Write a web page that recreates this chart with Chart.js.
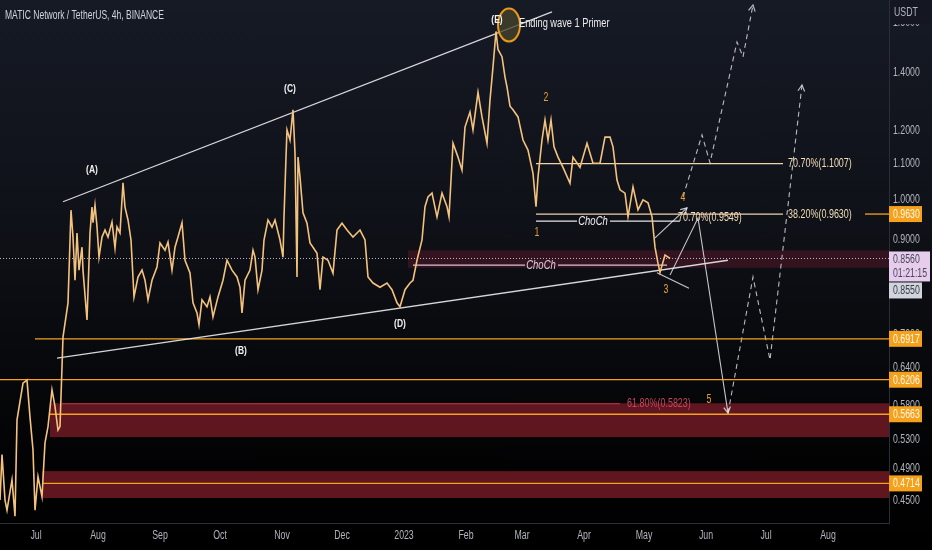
<!DOCTYPE html>
<html>
<head>
<meta charset="utf-8">
<script src="https://cdn.jsdelivr.net/npm/chart.js@4.4.0/dist/chart.umd.min.js"></script>
<style>
  html, body { margin: 0; padding: 0; }
  body {
    width: 932px; height: 550px; overflow: hidden;
    background: linear-gradient(to bottom, #161a25 0%, #0e1016 45%, #020203 85%, #000 100%);
  }
  #wrap { position: relative; width: 932px; height: 550px; }
</style>
</head>
<body>
<div id="wrap"><canvas id="chart"></canvas></div>
<script>
const FONT = "'Liberation Sans', Arial, sans-serif";
const SQUEEZE = 0.73;   // tradingview's font is narrower than anything installed

// MATIC/USDT price, [days since 1 Jul 2022, price]
const priceSeries = [
  [-18, 0.451], [-17, 0.509], [-15.5, 0.451], [-14.5, 0.439], [-12, 0.476], [-10.5, 0.432],
  [-9.5, 0.558], [-6.5, 0.615], [-4.5, 0.620], [-3, 0.562], [-1.5, 0.515], [-0.5, 0.439],
  [1, 0.480], [3, 0.455], [4.5, 0.525], [6, 0.548], [8, 0.604], [9.5, 0.578], [11, 0.543],
  [12, 0.548], [13, 0.642], [13.5, 0.695], [16, 0.761], [17.5, 0.973], [18.5, 0.906],
  [19.5, 0.808], [20.5, 0.916], [21.5, 0.830], [23, 0.882], [23.5, 0.830], [25.5, 0.727],
  [27, 0.916], [28, 0.981], [28.5, 0.941], [29.5, 0.986], [30.5, 0.931], [31.5, 0.859],
  [33, 0.906], [34.5, 0.923], [36, 0.906], [38, 0.943], [39.5, 0.880], [40.5, 0.931],
  [42, 0.916], [43.5, 1.046], [44.5, 0.981], [46, 0.948], [47.5, 0.899], [49, 0.773],
  [51, 0.815], [53, 0.830], [54.5, 0.808], [56, 0.767], [58, 0.808], [60.5, 0.837],
  [62, 0.892], [64.5, 0.875], [66, 0.894], [68, 0.830], [69.5, 0.882], [71, 0.906],
  [73, 0.941], [74.5, 0.852], [77, 0.824], [78.5, 0.761], [80.5, 0.741], [81.5, 0.718],
  [83, 0.767], [85.5, 0.753], [87, 0.773], [88.5, 0.733], [91, 0.773], [93.5, 0.808],
  [95.5, 0.852], [98, 0.830], [100.5, 0.815],
  [102, 0.793], [103, 0.741], [104.5, 0.808], [107, 0.830], [108.5, 0.875], [109.5, 0.859],
  [111, 0.788], [113, 0.830], [114, 0.899], [116, 0.948], [118, 0.930], [119.5, 0.948],
  [122, 0.899], [123.5, 0.859], [124, 0.956], [125, 1.120], [125.5, 1.204], [127, 1.172],
  [128.5, 1.270], [129.5, 1.132], [130.5, 0.815], [131, 1.120], [132, 1.062], [133.5, 0.966],
  [135.5, 0.940], [137, 0.892], [138.5, 0.882], [140.5, 0.868], [142, 0.788], [143.5, 0.859],
  [146, 0.852], [148.5, 0.823], [150.5, 0.923], [153, 0.940], [155.5, 0.923], [158.5, 0.906],
  [162, 0.923], [164.5, 0.899], [166, 0.815], [168.5, 0.802], [172, 0.793], [175.5, 0.802],
  [178, 0.788], [180.5, 0.761], [182, 0.753], [184.5, 0.788], [187, 0.802], [188.5, 0.808],
  [190.5, 0.852], [193, 0.899], [194.5, 0.982], [196, 1.008], [198, 1.018], [200.5, 0.956],
  [203, 1.018], [205.5, 0.982], [206.5, 0.956], [208.5, 1.162], [211, 1.120], [213, 1.082],
  [214.5, 1.213], [217, 1.262], [218.5, 1.204], [221, 1.330], [223, 1.246], [225.5, 1.162],
  [227, 1.303], [228.5, 1.423], [230, 1.563], [231, 1.490], [233, 1.462], [234.5, 1.385],
  [235.5, 1.349], [237, 1.282], [238.5, 1.270], [241, 1.246], [243.5, 1.172], [246, 1.141],
  [248.5, 1.073], [250, 0.982], [251, 1.062], [253, 1.172], [254.5, 1.236], [256, 1.172],
  [257.5, 1.236], [259, 1.151], [261, 1.120], [263.5, 1.090], [267, 1.045], [268.5, 1.120],
  [272, 1.090], [275.5, 1.162], [278.5, 1.102], [282, 1.102], [284.5, 1.181], [287, 1.181],
  [288.5, 1.151], [290.5, 1.054], [292, 1.027], [294.5, 1.018], [296, 0.956], [298.5, 1.035],
  [301, 0.974], [303.5, 1.000], [306, 0.992], [308, 0.956], [309.5, 0.882], [311, 0.845],
  [312, 0.825], [314.5, 0.864], [317, 0.856]
];

const monthDays = [0, 31, 62, 92, 123, 153, 184, 215, 243, 274, 304, 335, 365, 396];
const monthLabels = ['Jul', 'Aug', 'Sep', 'Oct', 'Nov', 'Dec', '2023', 'Feb', 'Mar', 'Apr', 'May', 'Jun', 'Jul', 'Aug'];
const priceTicks = [1.6, 1.4, 1.2, 1.1, 1.0, 0.9, 0.7, 0.64, 0.58, 0.53, 0.49, 0.45];

const lastPrice = 0.856;
const bidPrice = 0.855;
const countdown = '01:21:15';
const levelTags = [0.9630, 0.6917, 0.6206, 0.5663, 0.4714];

// drawings, all in [day, price]
const upperTrend = [[13.5, 0.995], [258, 1.646]];
const lowerTrend = [[10.5, 0.657], [346, 0.852]];
const orangeLevels = [[0.6917, -0.5], [0.6206, -18], [0.5663, 7], [0.4714, 3]];   // [price, from day]
const redZones = [[0.583, 0.533, 7], [0.487, 0.4535, 3]];                          // [top, bottom, from day]
const liveZone = [0.875, 0.835, 186];
const fibLevels = [[1.1007, 250, 373.5], [0.9630, 250, 373.5]];                     // [price, from, to]
const fibTail = [0.9630, 414.5];
const fibRed = [0.5823, 13, 292];
const chochLow = { price: 0.841, segs: [[188.5, 244.5], [261, 315.5]], textDay: 252.5 };
const chochHigh = { price: 0.945, segs: [[250, 270.5], [287, 322]], textDay: 278.5 };
const arrowUp = [[309.5, 0.904], [325.5, 0.979]];
const arrowDown = [[317, 0.819], [331, 0.953], [346, 0.568]];
const tickLine = [[310.5, 0.824], [326.5, 0.791]];
const dashedA = [[346, 0.568], [358.5, 0.815], [367, 0.654], [383, 1.356]];
const dashedB = [[323.5, 1.008], [333, 1.188], [337, 1.103], [350.5, 1.520], [353.5, 1.461], [358.5, 1.677]];
const circleAt = [236.5, 1.590];

const waveLabels = [['(A)', 28, 1.082], ['(B)', 102.5, 0.670], ['(C)', 127, 1.342], ['(D)', 182, 0.719], ['(E)', 230.5, 1.611]];
const countLabels = [['1', 250.5, 0.916], ['2', 255, 1.310], ['3', 315, 0.787], ['4', 323.5, 1.005], ['5', 336.5, 0.588]];
const fibTexts = [['70.70%(1.1007)', 376, 1.1007], ['38.20%(0.9630)', 376, 0.9630], ['70.70%(0.9549)', 321, 0.9549]];
const fibRedText = ['61.80%(0.5823)', 295.5, 0.5823];
const primerText = ['Ending wave 1 Primer', 241.5, 1.598];

const X_MIN = -18, X_MAX = 426.5;
const ORANGE = '#f5a11c';
const AXIS_TEXT = '#b2b5be';

const toXY = pts => pts.map(([x, y]) => ({ x, y }));
function lineSet(points, color, width, extra) {
  return Object.assign({
    data: toXY(points), borderColor: color, borderWidth: width,
    pointRadius: 0, fill: false, tension: 0
  }, extra || {});
}

const datasets = [
  lineSet(priceSeries, '#f4c27f', 1.6),
  lineSet(upperTrend, 'rgba(235,235,240,0.9)', 1.3),
  lineSet(lowerTrend, 'rgba(235,235,240,0.9)', 1.3),
  lineSet([[X_MIN, lastPrice], [X_MAX, lastPrice]], 'rgba(225,210,235,0.85)', 1, { borderDash: [1, 2] }),
  ...orangeLevels.map(([p, d]) => lineSet([[d, p], [X_MAX, p]], ORANGE, 1.3)),
  ...fibLevels.map(([p, a, b]) => lineSet([[a, p], [b, p]], '#f0d2a8', 1.2)),
  lineSet([[fibTail[1], fibTail[0]], [X_MAX, fibTail[0]]], ORANGE, 1.3),
  lineSet([[fibRed[1], fibRed[0]], [fibRed[2], fibRed[0]]], '#c23a4a', 1.2),
  ...chochLow.segs.map(([a, b]) => lineSet([[a, chochLow.price], [b, chochLow.price]], 'rgba(235,215,235,0.9)', 1.3)),
  ...chochHigh.segs.map(([a, b]) => lineSet([[a, chochHigh.price], [b, chochHigh.price]], 'rgba(240,240,245,0.95)', 1.3)),
  lineSet(arrowUp, 'rgba(230,230,235,0.85)', 1.1, { arrow: true }),
  lineSet(arrowDown, 'rgba(230,230,235,0.85)', 1.1, { arrow: true }),
  lineSet(tickLine, 'rgba(230,230,235,0.85)', 1.1),
  lineSet(dashedA, 'rgba(215,215,225,0.85)', 1.1, { borderDash: [5, 4], arrow: true }),
  lineSet(dashedB, 'rgba(215,215,225,0.85)', 1.1, { borderDash: [5, 4], arrow: true })
];

// fillText squeezed horizontally
function squeeze(ctx, str, x, y, k) {
  ctx.fillText(str, x, y, ctx.measureText(str).width * (k || SQUEEZE));
}

function arrowHead(ctx, from, to, size, color) {
  const a = Math.atan2(to.y - from.y, to.x - from.x);
  ctx.save();
  ctx.strokeStyle = color;
  ctx.lineWidth = 1.2;
  ctx.setLineDash([]);
  ctx.beginPath();
  ctx.moveTo(to.x - size * Math.cos(a - 0.5), to.y - size * Math.sin(a - 0.5));
  ctx.lineTo(to.x, to.y);
  ctx.lineTo(to.x - size * Math.cos(a + 0.5), to.y - size * Math.sin(a + 0.5));
  ctx.stroke();
  ctx.restore();
}

const overlay = {
  id: 'tvOverlay',
  beforeDatasetsDraw(chart) {
    const { ctx, chartArea: ca, scales: { x, y } } = chart;
    ctx.save();
    ctx.beginPath();
    ctx.rect(ca.left, ca.top, ca.right - ca.left, ca.bottom - ca.top);
    ctx.clip();
    const box = (top, bottom, from, color) => {
      const x0 = x.getPixelForValue(from), y0 = y.getPixelForValue(top), y1 = y.getPixelForValue(bottom);
      ctx.fillStyle = color;
      ctx.fillRect(x0, y0, ca.right - x0, y1 - y0);
    };
    redZones.forEach(([t, b, d]) => box(t, b, d, 'rgba(112,26,36,0.85)'));
    box(liveZone[0], liveZone[1], liveZone[2], 'rgba(95,25,42,0.45)');
    ctx.restore();
  },
  afterDatasetsDraw(chart) {
    const { ctx, scales: { x, y } } = chart;
    chart.data.datasets.forEach((ds, i) => {
      if (!ds.arrow) return;
      const pts = chart.getDatasetMeta(i).data;
      const n = pts.length;
      arrowHead(ctx, pts[n - 2], pts[n - 1], 7, ds.borderColor);
    });

    // orange circle round the top
    const cx = x.getPixelForValue(circleAt[0]), cy = y.getPixelForValue(circleAt[1]);
    ctx.save();
    ctx.beginPath();
    ctx.ellipse(cx, cy, 11, 16.5, 0, 0, Math.PI * 2);
    ctx.fillStyle = 'rgba(70,66,44,0.78)';
    ctx.fill();
    ctx.lineWidth = 2;
    ctx.strokeStyle = '#e89b1a';
    ctx.stroke();
    ctx.restore();

    const text = (t, d, p, font, color, align, k) => {
      ctx.font = font;
      ctx.fillStyle = color;
      ctx.textAlign = align || 'center';
      ctx.textBaseline = 'middle';
      squeeze(ctx, t, x.getPixelForValue(d), y.getPixelForValue(p), k);
    };
    ctx.save();
    waveLabels.forEach(([t, d, p]) => text(t, d, p, `bold 10px ${FONT}`, '#f0f0f0', 'center', 0.85));
    countLabels.forEach(([t, d, p]) => text(t, d, p, `12px ${FONT}`, '#e8a035'));
    fibTexts.forEach(([t, d, p]) => text(t, d, p, `13px ${FONT}`, '#f2dcb8', 'left', 0.69));
    text(fibRedText[0], fibRedText[1], fibRedText[2], `13px ${FONT}`, '#c8485a', 'left', 0.69);
    text(primerText[0], primerText[1], primerText[2], `12.5px ${FONT}`, '#ececec', 'left', 0.74);
    text('ChoCh', chochLow.textDay, chochLow.price, `italic 13px ${FONT}`, 'rgba(235,215,235,0.95)');
    text('ChoCh', chochHigh.textDay, chochHigh.price, `italic 13px ${FONT}`, '#f2f2f5');
    ctx.restore();
  },
  afterDraw(chart) {
    const { ctx, chartArea: ca, scales: { x, y } } = chart;
    const left = ca.right;
    ctx.save();
    ctx.textBaseline = 'middle';
    ctx.font = `12px ${FONT}`;

    // axis tick labels, squeezed
    ctx.fillStyle = AXIS_TEXT;
    ctx.textAlign = 'center';
    x.ticks.forEach((t, i) => squeeze(ctx, monthLabels[i], x.getPixelForValue(t.value), ca.bottom + 13));
    ctx.textAlign = 'left';
    y.ticks.forEach(t => squeeze(ctx, t.value.toFixed(4), left + 4, y.getPixelForValue(t.value)));

    // title and currency
    ctx.fillStyle = '#d1d4dc';
    squeeze(ctx, 'MATIC Network / TetherUS, 4h, BINANCE', 5, 16, 0.71);
    ctx.fillStyle = '#141722';
    ctx.fillRect(left + 1, 0, chart.width - left - 1, 24);
    ctx.fillStyle = AXIS_TEXT;
    squeeze(ctx, 'USDT', left + 5, 13);

    const tag = (p, label, bg, fg, top, h, w) => {
      const y0 = top !== undefined ? top : y.getPixelForValue(p) - 8;
      ctx.fillStyle = bg;
      ctx.fillRect(left, y0, w || 33, h || 16);
      ctx.fillStyle = fg;
      squeeze(ctx, label, left + 4, y0 + 8.5);
      return y0 + (h || 16);
    };
    levelTags.forEach(p => tag(p, p.toFixed(4), ORANGE, '#fff8ea'));
    const liveTop = y.getPixelForValue(lastPrice) - 7;
    const liveBottom = tag(lastPrice, lastPrice.toFixed(4), '#e6cdee', '#4a4658', liveTop, 30, 41);
    ctx.fillStyle = '#4a4658';
    squeeze(ctx, countdown, left + 4, liveTop + 22);
    tag(bidPrice, bidPrice.toFixed(4), '#d1d4dc', '#363a45', liveBottom + 1, 16);
    ctx.restore();
  }
};

new Chart(document.getElementById('chart'), {
  type: 'line',
  data: { datasets },
  options: {
    responsive: true,
    maintainAspectRatio: false,
    animation: false,
    events: [],
    layout: { padding: 0 },
    plugins: { legend: { display: false }, tooltip: { enabled: false } },
    scales: {
      x: {
        type: 'linear',
        min: X_MIN,
        max: X_MAX,
        bounds: 'data',
        grid: { display: false, drawTicks: false },
        border: { display: true, color: '#2a2e39' },
        ticks: { color: 'rgba(0,0,0,0)', font: { family: FONT, size: 11 }, padding: 8, maxRotation: 0, autoSkip: false },
        afterBuildTicks: s => { s.ticks = monthDays.map(v => ({ value: v })); },
        afterFit: s => { s.height = 27; s.paddingLeft = 0; s.paddingRight = 0; }
      },
      y: {
        type: 'logarithmic',
        position: 'right',
        min: 0.4244,
        max: 1.699,
        bounds: 'data',
        grid: { display: false, drawTicks: false },
        border: { display: true, color: '#2a2e39' },
        ticks: { color: 'rgba(0,0,0,0)', font: { family: FONT, size: 11 }, padding: 4, autoSkip: false },
        afterBuildTicks: s => { s.ticks = priceTicks.map(v => ({ value: v })); },
        afterFit: s => { s.width = 43; s.paddingTop = 0; s.paddingBottom = 0; }
      }
    }
  },
  plugins: [overlay]
});
</script>
</body>
</html>
